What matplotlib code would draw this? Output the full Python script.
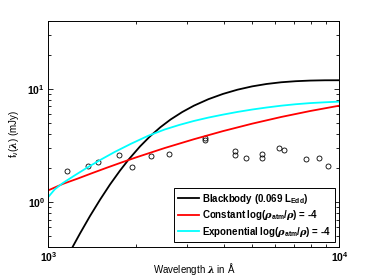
import matplotlib
matplotlib.use("Agg")
import matplotlib.pyplot as plt
from matplotlib.ticker import LogLocator, NullFormatter

plt.rcParams["font.family"] = ["Liberation Sans", "DejaVu Sans"]
plt.rcParams["font.weight"] = "bold"
plt.rcParams["mathtext.fontset"] = "custom"
plt.rcParams["mathtext.rm"] = "Liberation Sans:bold"
plt.rcParams["mathtext.bf"] = "Liberation Sans:bold"
plt.rcParams["mathtext.it"] = "DejaVu Serif:italic"
plt.rcParams["mathtext.default"] = "regular"

# observed photometry
obs_wave = [1156, 1365, 1483, 1750, 1931, 2253, 2600, 3466, 3466,
            4378, 4378, 4777, 5409, 5409, 6190, 6443, 7659, 8536, 9142]
obs_flux = [1.86, 2.09, 2.24, 2.62, 2.05, 2.55, 2.66, 3.69, 3.52,
            2.83, 2.58, 2.43, 2.68, 2.45, 2.98, 2.90, 2.41, 2.45, 2.06]

# model curves
bb_wave = [1190, 1213, 1285, 1390, 1507, 1629, 1762, 1884, 2065, 2239, 2427,
           2630, 2884, 3162, 3548, 3981, 4467, 5012, 5623, 6310, 7079, 7943,
           8913, 10000]
bb_flux = [0.367, 0.403, 0.528, 0.751, 1.053, 1.429, 1.892, 2.360, 3.097,
           3.819, 4.581, 5.358, 6.237, 7.096, 8.101, 9.016, 9.829, 10.51,
           11.04, 11.43, 11.68, 11.83, 11.90, 11.91]

const_wave = [1000, 1122, 1259, 1413, 1585, 1778, 1995, 2512, 3162, 3981,
              5012, 6310, 7943, 10000]
const_flux = [1.268, 1.445, 1.607, 1.798, 2.005, 2.228, 2.47, 3.00, 3.585,
              4.23, 4.92, 5.64, 6.37, 7.10]

exp_wave = [1000, 1052, 1122, 1230, 1368, 1521, 1690, 1928, 2203, 2512,
            2818, 3162, 3548, 3981, 4467, 5012, 5623, 6310, 7079, 7943,
            8913, 10000]
exp_flux = [1.109, 1.294, 1.472, 1.714, 2.032, 2.382, 2.767, 3.281, 3.846,
            4.375, 4.797, 5.200, 5.572, 5.916, 6.252, 6.561, 6.839, 7.096,
            7.311, 7.482, 7.603, 7.709]

fig = plt.figure(figsize=(3.75, 2.78), dpi=100)
ax = fig.add_axes([0.129, 0.1115, 0.776, 0.814])

ax.plot(obs_wave, obs_flux, "o", mfc="none", mec="k", ms=3.6, mew=0.6)
ax.plot(bb_wave, bb_flux, "k-", lw=1.3, label=r"Blackbody (0.069 L$_{Edd}$)")
ax.plot(const_wave, const_flux, "-", color="#ff0000", lw=1.3,
        label=r"Constant log($\mathit{\rho}_{atm}$/$\mathit{\rho}$) = -4")
ax.plot(exp_wave, exp_flux, "-", color="#00ffff", lw=1.3,
        label=r"Exponential log($\mathit{\rho}_{atm}$/$\mathit{\rho}$) = -4")

ax.set_xscale("log")
ax.set_yscale("log")
ax.set_xlim(1000, 10000)
ax.set_ylim(0.4, 40)
ax.xaxis.set_major_locator(LogLocator(base=10, numticks=5))
ax.yaxis.set_major_locator(LogLocator(base=10, subs=[1.0], numticks=5))
ax.yaxis.set_minor_locator(LogLocator(base=10, subs=range(2, 10), numticks=12))
ax.yaxis.set_minor_formatter(NullFormatter())
ax.xaxis.set_minor_formatter(NullFormatter())
ax.tick_params(which="both", direction="in", top=True, right=True,
               labelsize=7.5, width=0.6, pad=2.5)
ax.tick_params(which="major", length=3.5)
ax.tick_params(which="minor", length=2)
for s in ax.spines.values():
    s.set_linewidth(0.7)

ax.set_xlabel(r"Wavelength $\mathit{\lambda}$ in Å", fontsize=7)
ax.xaxis.set_label_coords(0.5, -0.062)
ax.set_ylabel(r"f$_{\nu}$($\mathit{\lambda}$) (mJy)", fontsize=7)
ax.yaxis.set_label_coords(-0.095, 0.5)

leg = ax.legend(loc="lower right", fontsize=7, fancybox=False, framealpha=1,
                edgecolor="k", handlelength=2.2, handletextpad=0.3,
                borderaxespad=0.5, labelspacing=0.25, borderpad=0.35)
leg.get_frame().set_linewidth(0.7)

fig.savefig("out.png", dpi=100)
